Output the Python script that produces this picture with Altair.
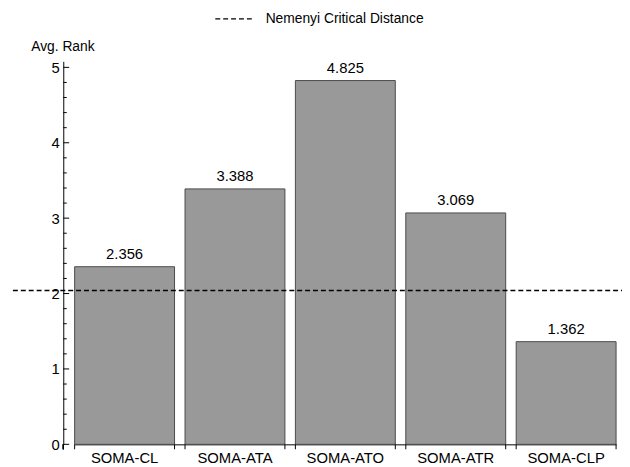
import altair as alt
import pandas as pd

# ---- data ----
methods = ["SOMA-CL", "SOMA-ATA", "SOMA-ATO", "SOMA-ATR", "SOMA-CLP"]
avg_rank = [2.356, 3.388, 4.825, 3.069, 1.362]
critical_distance = [2.04]
legend_label = ["Nemenyi Critical Distance"]
major_ticks = [0, 1, 2, 3, 4, 5]
minor_ticks = [0.2, 0.4, 0.6, 0.8, 1.2, 1.4, 1.6, 1.8, 2.2, 2.4, 2.6, 2.8,
               3.2, 3.4, 3.6, 3.8, 4.2, 4.4, 4.6, 4.8, 5.0]
y_domain = [0, 5.08]

FONT = "Liberation Sans"
W, H = 566, 388

bars_df = pd.DataFrame({"method": methods, "rank": avg_rank,
                        "label": [f"{v:.3f}" for v in avg_rank]})
cd_df = pd.DataFrame({"rank": critical_distance, "name": legend_label})
major_df = pd.DataFrame({"rank": major_ticks})
minor_df = pd.DataFrame({"rank": [t for t in minor_ticks if abs(t - round(t)) > 1e-9]})

xscale = alt.Scale(domain=methods, range=[11.5, 560], paddingInner=0.095, paddingOuter=0)
yscale = alt.Scale(domain=y_domain, nice=False, zero=True)

x_axis = alt.Axis(title=None, labelAngle=0, labelFont=FONT, labelFontSize=15,
                  labelColor="black", ticks=False, tickSize=0, labelPadding=6,
                  domainColor="black", domainWidth=1, grid=False)
y_axis = alt.Axis(title="Avg. Rank", titleAngle=0, titleX=-33, titleY=-11,
                  titleAlign="left", titleBaseline="alphabetic",
                  titleFont=FONT, titleFontSize=14, titleFontWeight="normal",
                  titleColor="black", values=major_ticks, ticks=False, tickSize=0,
                  labelPadding=4, labelFont=FONT, labelFontSize=15,
                  labelColor="black", domainColor="black", domainWidth=1,
                  grid=False)


def xe(**kw):
    return alt.X("method:N", scale=xscale, sort=methods, axis=x_axis, **kw)


def ye():
    return alt.Y("rank:Q", scale=yscale, axis=y_axis)


bars = alt.Chart(bars_df).mark_bar(fill="#999999", stroke="#4a4a4a", strokeWidth=1).encode(
    x=xe(), y=ye())

labels = alt.Chart(bars_df).mark_text(dy=-8, baseline="alphabetic", font=FONT,
                                      fontSize=15, color="black").encode(
    x=xe(), y=ye(), text="label:N")

cd_rule = alt.Chart(cd_df).mark_rule(color="black", strokeWidth=1.5).encode(
    y=ye(),
    x=alt.value(-51), x2=alt.value(W),
    strokeDash=alt.StrokeDash("name:N", scale=alt.Scale(range=[[5, 3]]),
                              legend=alt.Legend(title=None, orient="none", legendX=153,
                                                legendY=-64, symbolType="stroke",
                                                symbolSize=1600, symbolStrokeWidth=1.5,
                                                symbolStrokeColor="black", labelFont=FONT,
                                                labelFontSize=14, labelColor="black",
                                                labelOffset=10, labelLimit=0, padding=0)))

major = alt.Chart(major_df).mark_rule(color="black", strokeWidth=1).encode(
    y=ye(), x=alt.value(0), x2=alt.value(6))
minor = alt.Chart(minor_df).mark_rule(color="black", strokeWidth=1).encode(
    y=ye(), x=alt.value(0), x2=alt.value(3.5))

edge0 = alt.Chart(bars_df).mark_rule(color="black", strokeWidth=1).encode(
    x=xe(bandPosition=0), y=alt.value(H), y2=alt.value(H + 5))
edge1 = alt.Chart(bars_df).mark_rule(color="black", strokeWidth=1).encode(
    x=xe(bandPosition=1), y=alt.value(H), y2=alt.value(H + 5))
yext = alt.Chart(bars_df).mark_rule(color="black", strokeWidth=1).encode(
    x=alt.value(0), y=alt.value(H), y2=alt.value(H + 5))

chart = alt.layer(bars, labels, cd_rule, major, minor, edge0, edge1, yext).properties(
    width=W, height=H,
    autosize=alt.AutoSizeParams(type="none"),
    padding={"left": 56, "top": 51, "right": 0, "bottom": 25},
    background="white",
).configure_view(stroke=None)

chart.save("out.html", embed_options={"renderer": "svg", "actions": False})
